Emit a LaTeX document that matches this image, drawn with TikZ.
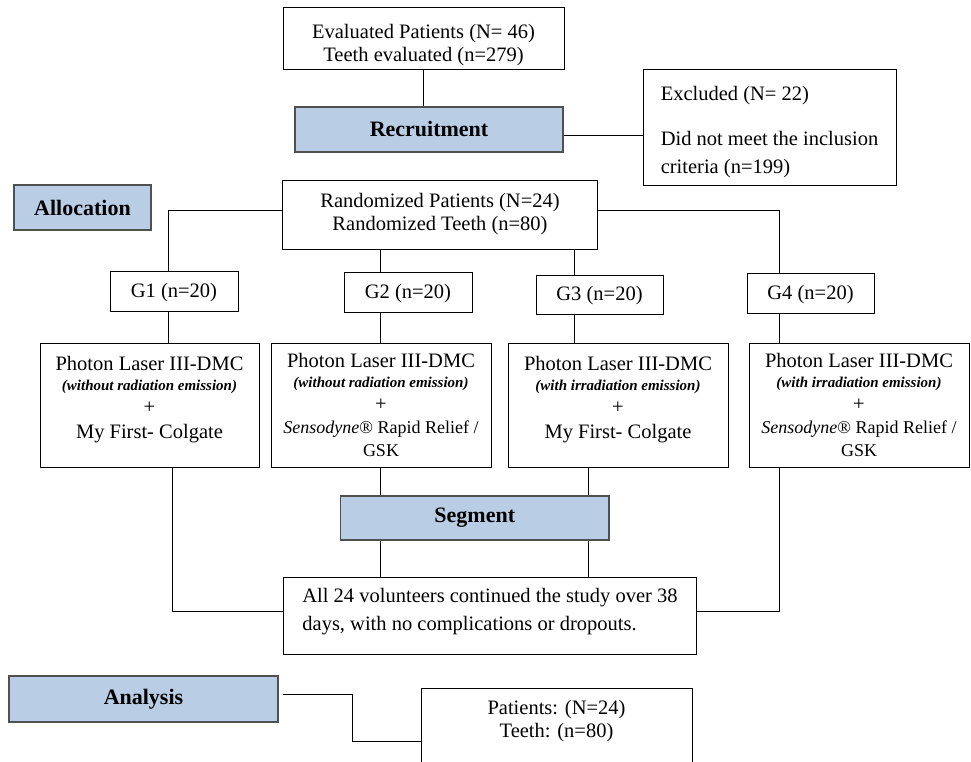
\documentclass[tikz,border=0pt]{standalone}
\usepackage{fontspec}
\setmainfont{Liberation Serif}
\definecolor{phaseblue}{HTML}{B9CDE5}
\definecolor{phaseedge}{HTML}{505050}
\newcommand\brandline{{\fontsize{18}{23}\selectfont\textit{Sensodyne}® Rapid Relief /}\\{\fontsize{18}{23}\selectfont GSK}}
\newcommand\notewithout{{\fontsize{15}{18}\selectfont\bfseries\itshape (without radiation emission)}}
\newcommand\notewith{{\fontsize{15}{18}\selectfont\bfseries\itshape (with irradiation emission)}}
\tikzset{
  box/.style={draw=black, line width=0.9pt, fill=white, inner sep=0pt, align=center,
              font=\fontsize{20.5}{23}\selectfont},
  phase/.style={draw=phaseedge, line width=1.3pt, fill=phaseblue, inner sep=0pt,
              font=\fontsize{22}{25}\selectfont\bfseries},
  conn/.style={line width=0.9pt}
}
\begin{document}
\begin{tikzpicture}[x=1pt,y=-1pt]
\useasboundingbox (0,0) rectangle (971,762);
\clip (0,0) rectangle (971,762);
% boxes
\node[box, minimum width=281, minimum height=62] (top) at (423.5,38)
  {\rule{0pt}{29pt}Evaluated Patients (N= 46)\\Teeth evaluated (n=279)};
\node[phase, minimum width=268, minimum height=45] (recruit) at (429,129.5) {Recruitment};
\node[box, minimum width=253, minimum height=116, align=left,
      font=\fontsize{20.5}{28}\selectfont] (excluded) at (769.5,127)
  {\rule{0pt}{24pt}Excluded (N= 22)\\[17pt]Did not meet the inclusion\\criteria (n=199)};
\node[phase, minimum width=137, minimum height=45] (alloc) at (82.5,207.5) {Allocation};
\node[box, minimum width=314.5, minimum height=69] (random) at (440,214.5)
  {Randomized Patients (N=24)\\Randomized Teeth (n=80)};
\node[box, minimum width=128, minimum height=40] (G1) at (174,291) {\rule{0pt}{17pt}G1 (n=20)};
\node[box, minimum width=128, minimum height=40] (G2) at (408,292) {\rule{0pt}{17pt}G2 (n=20)};
\node[box, minimum width=127, minimum height=39] (G3) at (599.5,294.5) {\rule{0pt}{17pt}G3 (n=20)};
\node[box, minimum width=127, minimum height=40] (G4) at (810.5,293) {\rule{0pt}{17pt}G4 (n=20)};
\node[box, minimum width=219, minimum height=124] (P1) at (149.5,405)
  {Photon Laser III-DMC\\[-3pt]\notewithout\\+\\[2pt]My First- Colgate\\[-14pt]\strut};
\node[box, minimum width=220, minimum height=124] (P2) at (381,405)
  {Photon Laser III-DMC\\[-3pt]\notewithout\\+\\\brandline};
\node[box, minimum width=220, minimum height=124] (P3) at (618,405)
  {Photon Laser III-DMC\\[-3pt]\notewith\\+\\[2pt]My First- Colgate\\[-14pt]\strut};
\node[box, minimum width=220, minimum height=124] (P4) at (859,405)
  {Photon Laser III-DMC\\[-3pt]\notewith\\+\\\brandline};
\node[phase, minimum width=268.5, minimum height=44] (segment) at (474.75,518) {Segment};
\node[box, minimum width=413, minimum height=77, align=left,
      font=\fontsize{20.5}{28}\selectfont] (final) at (490,615.5)
  {All 24 volunteers continued the study over 38\\days, with no complications or dropouts.\rule[-13pt]{0pt}{0pt}};
\node[phase, minimum width=269, minimum height=46] (analysis) at (143.5,699) {Analysis};
\node[box, anchor=north, minimum width=271] (patients) at (556.5,688)
  {\begin{minipage}[t][110pt][t]{271pt}\centering\vspace{12pt}Patients: (N=24)\\Teeth: (n=80)\end{minipage}};
% connectors
\draw[conn] (top.south) -- (top.south |- recruit.north);
\draw[conn] (recruit.east |- 0,135) -- (excluded.west |- 0,135);
\draw[conn] (random.west |- 0,210) -| (G1.north -| 168,0);
\draw[conn] (random.east |- 0,210) -| (G4.north -| 779,0);
\draw[conn] (random.south -| 380,0) -- (G2.north -| 380,0);
\draw[conn] (random.south -| 574,0) -- (G3.north -| 574,0);
\draw[conn] (G1.south -| 168,0) -- (P1.north -| 168,0);
\draw[conn] (G2.south -| 380,0) -- (P2.north -| 380,0);
\draw[conn] (G3.south -| 574,0) -- (P3.north -| 574,0);
\draw[conn] (G4.south -| 779,0) -- (P4.north -| 779,0);
\draw[conn] (P1.south -| 172,0) |- (final.west |- 0,611);
\draw[conn] (P4.south -| 779,0) |- (final.east |- 0,611);
\draw[conn] (P2.south -| 380,0) -- (segment.north -| 380,0);
\draw[conn] (P3.south -| 588,0) -- (segment.north -| 588,0);
\draw[conn] (segment.south -| 380,0) -- (final.north -| 380,0);
\draw[conn] (segment.south -| 588,0) -- (final.north -| 588,0);
\coordinate (aout) at ([xshift=4pt]analysis.east);
\coordinate (abend) at (352,741);
\draw[conn] (aout |- 0,694) -| (abend) -- (patients.west |- abend);
\end{tikzpicture}
\end{document}
